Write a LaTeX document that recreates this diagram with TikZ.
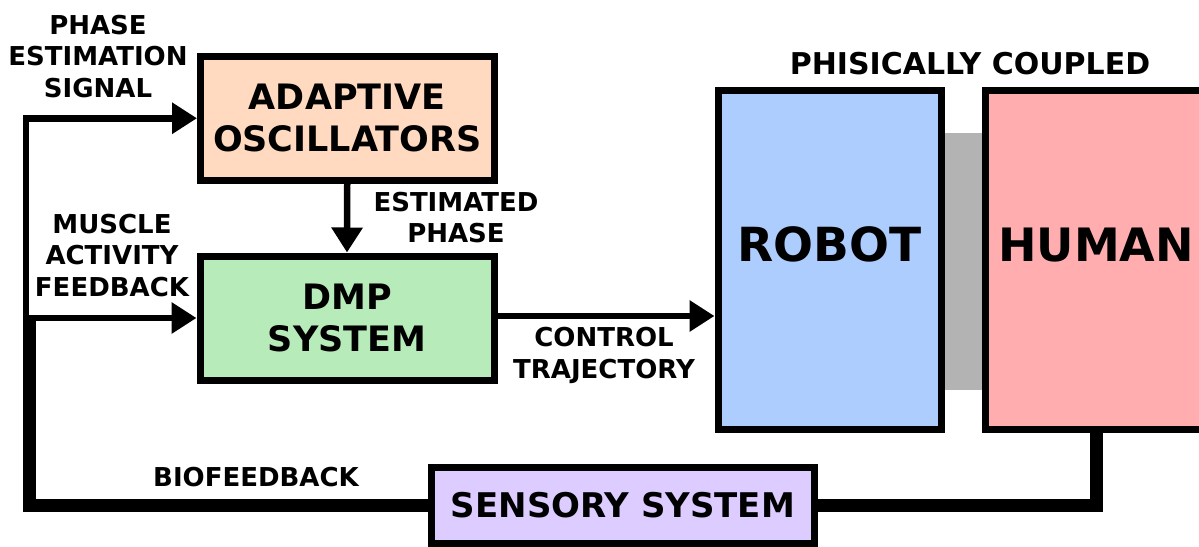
\documentclass[tikz,border=0pt]{standalone}
\usepackage{fontspec}
\setmainfont{DejaVu Sans}
\usetikzlibrary{arrows.meta}
\definecolor{peach}{RGB}{255,218,192}
\definecolor{mint}{RGB}{184,235,186}
\definecolor{skyb}{RGB}{173,205,254}
\definecolor{pinkr}{RGB}{255,173,175}
\definecolor{lilac}{RGB}{221,204,255}
\definecolor{coupg}{RGB}{179,179,179}
\tikzset{
  blk/.style={draw=black, line width=7pt, rectangle, inner sep=0pt, align=center,
    font=\bfseries\fontsize{35}{42}\selectfont},
  lbl/.style={align=center, inner sep=0pt, font=\bfseries\fontsize{26}{31.5}\selectfont},
  sig/.style={line width=6.5pt, line join=miter},
  fb/.style={line width=13pt, line join=miter},
  tip/.style={-{Triangle[length=25pt,width=30pt]}}
}
\begin{document}
\begin{tikzpicture}[x=1pt,y=-1pt]
\useasboundingbox (0,0) rectangle (1199,546);
\clip (0,0) rectangle (1199,546);
% coupling band
\node[fill=coupg, minimum width=44pt, minimum height=257pt, inner sep=0pt] (coupling) at (963,261.5) {};
% blocks
\node[blk, fill=peach, minimum width=293.5pt, minimum height=123.5pt] (ao) at (347.25,118.25) {ADAPTIVE\\OSCILLATORS};
\node[blk, fill=mint, minimum width=294pt, minimum height=124pt] (dmp) at (347,318) {DMP\\SYSTEM};
\node[blk, fill=skyb, minimum width=223pt, minimum height=339pt, font=\bfseries\fontsize{47}{56}\selectfont] (robot) at (829.5,259.5) {\raisebox{-2pt}[0pt][0pt]{ROBOT}};
\node[blk, fill=pinkr, minimum width=222pt, minimum height=339pt, font=\bfseries\fontsize{46}{56}\selectfont] (human) at (1096,259.5) {\raisebox{-2pt}[0pt][0pt]{HUMAN}};
\node[blk, fill=lilac, minimum width=383pt, minimum height=76pt, font=\bfseries\fontsize{34}{40}\selectfont] (sensory) at (623,505) {SENSORY SYSTEM};
% junction coordinates
\coordinate (jb) at (29.5,505);
\coordinate (jd) at (26,318);
\coordinate (ja) at (26,118.25);
% feedback path
\draw[fb] (human.south) |- (sensory.east);
\draw[fb] (sensory.west) -- (jb) -- (29.5,318);
\draw[sig,tip] (jd) -- (ja) -- (ao.west);
\draw[sig,tip] (jd) -- (dmp.west);
\draw[sig,tip] (ao.south) -- (dmp.north);
\draw[sig,tip] (dmp.east |- 0,316) -- (robot.west |- 0,316);
% labels
\node[lbl] (l1) at (98,56.5) {PHASE\\ESTIMATION\\SIGNAL};
\node[lbl] (l2) at (112,255.5) {MUSCLE\\ACTIVITY\\FEEDBACK};
\node[lbl] (l3) at (456,217.5) {ESTIMATED\\PHASE};
\node[lbl] (l4) at (604,355.5) {CONTROL\\TRAJECTORY};
\node[lbl] (l5) at (256,477) {BIOFEEDBACK};
\node[lbl, font=\bfseries\fontsize{30}{36}\selectfont] (l6) at (970,64) {PHISICALLY COUPLED};
\end{tikzpicture}
\end{document}
